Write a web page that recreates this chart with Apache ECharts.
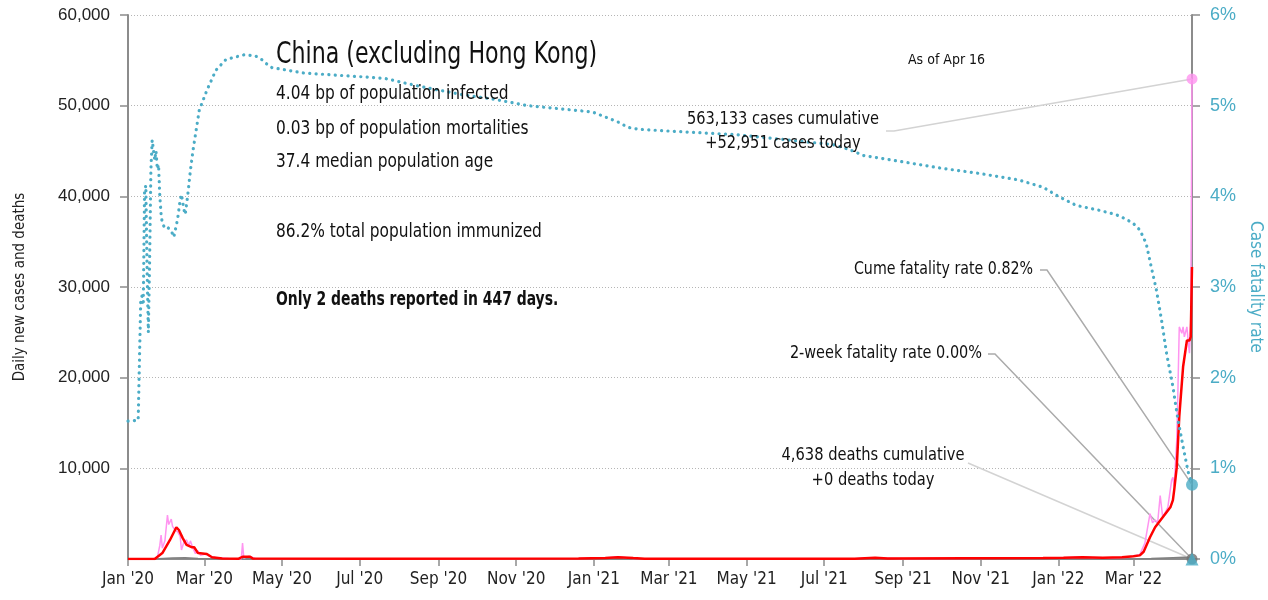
<!DOCTYPE html>
<html>
<head>
<meta charset="utf-8">
<script src="https://cdn.jsdelivr.net/npm/echarts@6/dist/echarts.min.js"></script>
<style>
html, body { margin: 0; padding: 0; background: #fff; }
#main { width: 1268px; height: 600px; }
</style>
</head>
<body>
<div id="main"></div>
<script>
// daily new cases (pink)
var caseDates = ['2020-01-01','2020-01-20','2020-01-24','2020-01-26','2020-01-27','2020-01-28','2020-01-30','2020-02-01','2020-02-02','2020-02-03','2020-02-04','2020-02-05','2020-02-07','2020-02-09','2020-02-11','2020-02-12','2020-02-14','2020-02-16','2020-02-18','2020-02-19','2020-02-21','2020-02-23','2020-02-25','2020-02-27','2020-03-02','2020-03-05','2020-03-10','2020-03-20','2020-03-30','2020-03-31','2020-04-01','2020-04-05','2020-04-10','2020-07-01','2020-12-20','2021-01-10','2021-01-20','2021-02-01','2021-07-25','2021-08-05','2021-08-15','2021-09-01','2021-12-20','2022-01-05','2022-01-15','2022-02-10','2022-02-25','2022-03-06','2022-03-10','2022-03-14','2022-03-16','2022-03-18','2022-03-20','2022-03-22','2022-03-24','2022-03-28','2022-03-31','2022-04-01','2022-04-02','2022-04-04','2022-04-05','2022-04-06','2022-04-08','2022-04-09','2022-04-10','2022-04-12','2022-04-13','2022-04-14','2022-04-15','2022-04-16'];
var caseValues = [0,0,150,1500,2650,1200,2000,4850,3800,4000,4400,3600,3200,3000,2500,1000,1900,2100,1500,2000,1200,600,900,400,550,300,150,50,0,1750,100,300,50,40,60,100,250,50,40,150,100,40,100,150,200,100,200,500,1750,5000,4000,4300,4000,7000,4600,5700,8700,9000,8000,13100,19000,25600,24900,25600,24500,25600,24000,22700,26000,52951];

// 7-day average of cases (red)
var avgDates = ['2020-01-01','2020-01-22','2020-01-28','2020-02-03','2020-02-08','2020-02-10','2020-02-13','2020-02-16','2020-02-20','2020-02-22','2020-02-25','2020-03-03','2020-03-07','2020-03-15','2020-03-28','2020-03-31','2020-04-06','2020-04-08','2020-07-01','2020-12-20','2021-01-10','2021-01-20','2021-02-01','2021-02-10','2021-07-25','2021-08-10','2021-08-20','2021-12-20','2022-01-05','2022-01-20','2022-02-05','2022-02-20','2022-03-01','2022-03-06','2022-03-09','2022-03-14','2022-03-18','2022-03-24','2022-03-30','2022-04-01','2022-04-02','2022-04-04','2022-04-06','2022-04-09','2022-04-12','2022-04-14','2022-04-15','2022-04-16'];
var avgValues = [0,0,650,2100,3500,3200,2300,1550,1300,1300,650,550,200,50,30,250,250,50,40,50,100,200,100,30,40,150,50,100,150,200,150,200,300,400,800,2400,3500,4600,5700,6500,7600,10100,15700,21200,24100,24100,24500,32200];

// daily deaths (grey)
var deathDates = ['2020-01-01','2020-01-25','2020-02-05','2020-02-15','2020-02-25','2020-03-15','2020-04-01','2022-03-01','2022-03-15','2022-04-01','2022-04-10','2022-04-15','2022-04-16'];
var deathValues = [0,20,100,130,50,10,0,0,50,150,200,150,0];

// case fatality rate, % (teal dotted, right axis)
var cfrDates = ['2020-01-01','2020-01-09','2020-01-10','2020-01-11','2020-01-12','2020-01-13','2020-01-14','2020-01-15','2020-01-16','2020-01-17','2020-01-18','2020-01-19','2020-01-20','2020-01-22','2020-01-23','2020-01-24','2020-01-25','2020-01-26','2020-01-27','2020-01-28','2020-01-30','2020-02-01','2020-02-04','2020-02-06','2020-02-09','2020-02-11','2020-02-12','2020-02-14','2020-02-15','2020-02-17','2020-02-19','2020-02-21','2020-02-23','2020-02-26','2020-03-03','2020-03-10','2020-03-18','2020-04-01','2020-04-10','2020-04-16','2020-04-19','2020-04-23','2020-05-18','2020-07-01','2020-07-21','2020-08-15','2020-09-20','2020-10-15','2020-11-10','2020-12-31','2021-01-20','2021-01-28','2021-02-05','2021-03-01','2021-04-23','2021-07-08','2021-07-20','2021-08-01','2021-09-01','2021-10-01','2021-11-01','2021-12-01','2021-12-20','2022-01-01','2022-01-15','2022-02-01','2022-02-15','2022-02-23','2022-03-01','2022-03-06','2022-03-11','2022-03-15','2022-03-19','2022-03-23','2022-03-27','2022-04-01','2022-04-05','2022-04-09','2022-04-13','2022-04-16'];
var cfrValues = [1.52,1.53,1.55,2.85,2.9,2.8,4.05,4.12,3.2,2.5,3.3,4.3,4.62,4.4,4.5,4.3,4.35,4.0,3.8,3.7,3.65,3.66,3.62,3.55,3.75,3.96,4.02,3.85,3.8,4.02,4.28,4.5,4.68,4.95,5.17,5.39,5.51,5.56,5.55,5.5,5.46,5.42,5.36,5.32,5.3,5.22,5.12,5.07,5.0,4.93,4.82,4.76,4.74,4.72,4.68,4.57,4.52,4.45,4.38,4.31,4.25,4.18,4.1,4.0,3.9,3.85,3.8,3.75,3.7,3.63,3.48,3.22,2.97,2.64,2.27,1.9,1.53,1.24,0.96,0.82];

var twoWeekRate = 0.0;
var tickDates = ['2020-01-01','2020-03-01','2020-05-01','2020-07-01','2020-09-01','2020-11-01','2021-01-01','2021-03-01','2021-05-01','2021-07-01','2021-09-01','2021-11-01','2022-01-01','2022-03-01'];
var months = ['Jan','Feb','Mar','Apr','May','Jun','Jul','Aug','Sep','Oct','Nov','Dec'];

var narrow = "'DejaVu Sans Condensed', 'Liberation Sans Narrow', sans-serif";
var wide = "'Liberation Sans', Arial, sans-serif";
var teal = '#4bacc6';

function toTime(s) {
    var p = s.split('-');
    return new Date(+p[0], +p[1] - 1, +p[2]).getTime();
}
function zip(ds, vs) {
    return ds.map(function (d, i) { return [toTime(d), vs[i]]; });
}
var lastDate = toTime(caseDates[caseDates.length - 1]);
var tickValues = tickDates.map(toTime);

var myChart = echarts.init(document.getElementById('main'));

var option = {
    animation: false,
    grid: { left: 128, right: 76, top: 15, bottom: 41, outerBoundsMode: 'none', containLabel: false },
    xAxis: {
        type: 'value',
        min: toTime('2020-01-01'),
        max: lastDate,
        axisLine: { lineStyle: { color: '#8c8c8c', width: 2 } },
        axisTick: { customValues: tickValues, length: 7, lineStyle: { color: '#8c8c8c', width: 1.5 } },
        axisLabel: {
            customValues: tickValues,
            color: '#222',
            fontFamily: narrow,
            fontSize: 17,
            margin: 12,
            formatter: function (v) {
                var d = new Date(v);
                return months[d.getMonth()] + " '" + String(d.getFullYear()).slice(2);
            }
        },
        splitLine: { show: false }
    },
    yAxis: [{
        type: 'value',
        min: 0,
        max: 60000,
        interval: 10000,
        name: 'Daily new cases and deaths',
        nameLocation: 'middle',
        nameGap: 100,
        nameTextStyle: { color: '#222', fontFamily: narrow, fontSize: 15 },
        axisLine: { show: true, lineStyle: { color: '#8c8c8c', width: 2 } },
        axisTick: { show: true, length: 8, lineStyle: { color: '#8c8c8c', width: 1.5 } },
        axisLabel: {
            showMinLabel: false,
            color: '#222',
            fontFamily: wide,
            fontSize: 17,
            margin: 18,
            formatter: function (v) { return v.toLocaleString('en-US'); }
        },
        splitLine: { lineStyle: { color: '#b5b5b5', type: [1, 2], width: 1 } }
    }, {
        type: 'value',
        min: 0,
        max: 6,
        interval: 1,
        position: 'right',
        name: 'Case fatality rate',
        nameLocation: 'middle',
        nameRotate: -90,
        nameGap: 50,
        nameTextStyle: { color: teal, fontFamily: narrow, fontSize: 17 },
        axisLine: { show: true, lineStyle: { color: '#8c8c8c', width: 2 } },
        axisTick: { show: true, length: 8, lineStyle: { color: '#8c8c8c', width: 1.5 } },
        axisLabel: { color: teal, fontFamily: wide, fontSize: 18, margin: 18, formatter: '{value}%' },
        splitLine: { show: false }
    }],
    series: [{
        name: 'Deaths',
        type: 'line',
        data: zip(deathDates, deathValues),
        showSymbol: false,
        lineStyle: { color: '#808080', width: 1.5 },
        z: 2
    }, {
        name: 'Cases',
        type: 'line',
        data: zip(caseDates, caseValues),
        showSymbol: false,
        lineStyle: { color: '#ff94f0', width: 1.5 },
        z: 3
    }, {
        name: 'Average',
        type: 'line',
        data: zip(avgDates, avgValues),
        showSymbol: false,
        lineStyle: { color: '#ff0000', width: 2.5 },
        z: 4
    }, {
        name: 'Fatality',
        type: 'line',
        yAxisIndex: 1,
        data: zip(cfrDates, cfrValues),
        showSymbol: false,
        lineStyle: { color: teal, width: 3.2, type: [0.1, 6.3], cap: 'round' },
        z: 5
    }, {
        type: 'scatter',
        data: [[lastDate, deathValues[deathValues.length - 1]]],
        symbolSize: 11,
        itemStyle: { color: '#707070' },
        z: 6
    }, {
        type: 'scatter',
        yAxisIndex: 1,
        data: [[lastDate, twoWeekRate]],
        symbol: 'triangle',
        symbolSize: 13,
        itemStyle: { color: teal },
        z: 7
    }, {
        type: 'scatter',
        yAxisIndex: 1,
        data: [[lastDate, cfrValues[cfrValues.length - 1]]],
        symbolSize: 12,
        itemStyle: { color: teal },
        z: 7
    }, {
        type: 'scatter',
        data: [[lastDate, caseValues[caseValues.length - 1]]],
        symbolSize: 11,
        itemStyle: { color: '#ff94f0' },
        z: 7
    }]
};

myChart.setOption(option);

// leader lines and annotation text
var casePt = myChart.convertToPixel({ xAxisIndex: 0, yAxisIndex: 0 }, [lastDate, caseValues[caseValues.length - 1]]);
var cfrPt = myChart.convertToPixel({ xAxisIndex: 0, yAxisIndex: 1 }, [lastDate, cfrValues[cfrValues.length - 1]]);
var twoPt = myChart.convertToPixel({ xAxisIndex: 0, yAxisIndex: 1 }, [lastDate, twoWeekRate]);
var deathPt = myChart.convertToPixel({ xAxisIndex: 0, yAxisIndex: 0 }, [lastDate, 0]);

function txt(t, x, y, size, align, sx, bold) {
    return {
        type: 'text', z: 10, x: x, y: y, scaleX: sx,
        style: {
            text: t, fill: '#111',
            font: (bold ? 'bold ' : '') + size + 'px ' + narrow,
            align: align, verticalAlign: 'middle'
        }
    };
}
function leader(points, color) {
    return {
        type: 'polyline', z: 1,
        shape: { points: points },
        style: { stroke: color, lineWidth: 1.5, fill: null }
    };
}

myChart.setOption({
    graphic: [
        leader([[886, 131], [894, 131], casePt], '#d3d3d3'),
        leader([[1040, 270], [1047, 270], cfrPt], '#ababab'),
        leader([[988, 354], [995, 354], twoPt], '#ababab'),
        leader([[968, 463], deathPt], '#d3d3d3'),
        txt('China (excluding Hong Kong)', 276, 55, 30, 'left', 0.82),
        txt('4.04 bp of population infected', 276, 94, 19, 'left', 0.9),
        txt('0.03 bp of population mortalities', 276, 129, 19, 'left', 0.9),
        txt('37.4 median population age', 276, 162, 19, 'left', 0.9),
        txt('86.2% total population immunized', 276, 232, 19, 'left', 0.9),
        txt('Only 2 deaths reported in 447 days.', 276, 300, 19, 'left', 0.815, true),
        txt('As of Apr 16', 908, 60, 14, 'left', 1),
        txt('563,133 cases cumulative', 783, 120, 17, 'center', 0.955),
        txt('+52,951 cases today', 783, 144, 17, 'center', 0.955),
        txt('Cume fatality rate 0.82%', 1033, 270, 17, 'right', 0.93),
        txt('2-week fatality rate 0.00%', 982, 354, 17, 'right', 0.945),
        txt('4,638 deaths cumulative', 873, 456, 17, 'center', 0.96),
        txt('+0 deaths today', 873, 481, 17, 'center', 0.96)
    ]
});
</script>
</body>
</html>
